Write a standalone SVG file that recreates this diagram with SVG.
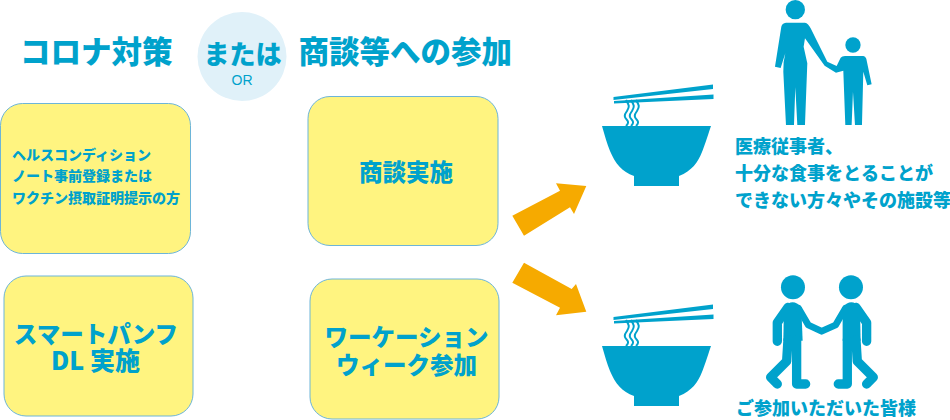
<svg xmlns="http://www.w3.org/2000/svg" xmlns:xlink="http://www.w3.org/1999/xlink" width="950" height="420" viewBox="0 0 950 420">
<style>
text{font-family:"Noto Sans CJK JP","Noto Sans",sans-serif;font-weight:900;fill:#00a2cc}
.box{fill:#fff480;stroke:#6db5d8;stroke-width:1}
.blue{fill:#00a2cc}
.arrow{fill:#f6aa00}
.limb{fill:none;stroke:#00a2cc;stroke-linecap:round;stroke-linejoin:round}
.noodle{fill:none;stroke:#00a2cc;stroke-width:2}
.title{font-size:30.500px}
.big{font-size:23.500px;text-anchor:middle}
.small{font-size:14px}
.right{font-size:18px}
</style>
<defs>
<g id="bowl">
<path class="blue" d="M602 126H711C707 138 704 147 702 152C698 162 692 171 679 176V186H634V176C622 172 615 163 610 151C607 144 605 136 602 126Z"/>
<path class="blue" d="M613.500 97L713 84.500V89L613.500 100ZM614 101L713.500 94.500V99L614 103.500Z"/>
<path class="noodle" d="M626 100C629 105 630 106 627 111C624 115 624 117 627 120C629 122 628 124 626 126"/>
<path class="noodle" d="M631 100C634 105 635 106 632 111C629 115 629 117 632 120C634 122 633 124 631 126"/>
<path class="noodle" d="M636 100C639 105 640 106 637 111C634 115 634 117 637 120C639 122 638 124 636 126"/>
</g>
</defs>
<g id="connectors">
<path class="arrow" d="M512.300 215.700L560 190.700L556 183.300L586.300 186L574 214L570 207.300L524 235.700Z"/>
<path class="arrow" d="M524 262.700L571.700 289L576 284L586.300 311.700L556 315.300L560 307.700L512.300 282.700Z"/>
</g>
<g id="title-left"><text class="title" x="20" y="63">コロナ対策</text></g>
<g id="or-circle">
<circle cx="242" cy="56.500" r="44.500" fill="#e0f1f9"/>
<text x="242.500" y="64" font-size="26px" text-anchor="middle">または</text>
<text x="242" y="85" style="font-family:'Liberation Sans',sans-serif;font-weight:400" font-size="14px" text-anchor="middle">OR</text>
</g>
<g id="title-right"><text class="title" x="298.500" y="63">商談等への参加</text></g>
<g id="node-health">
<rect class="box" x="0.500" y="103.500" width="190" height="150" rx="22"/>
<text class="small" x="12"><tspan x="12" y="159.500">ヘルスコンディション</tspan><tspan x="12" y="181">ノート事前登録または</tspan><tspan x="12" y="202.500">ワクチン摂取証明提示の方</tspan></text>
</g>
<g id="node-pamphlet">
<rect class="box" x="4" y="276" width="189" height="140" rx="22"/>
<text class="big"><tspan x="96" y="343">スマートパンフ</tspan><tspan x="95.500" y="370" style="font-size:25px">DL 実施</tspan></text>
</g>
<g id="node-meeting">
<rect class="box" x="308" y="96.500" width="190" height="149" rx="22"/>
<text class="big" x="406" y="181">商談実施</text>
</g>
<g id="node-workation">
<rect class="box" x="310" y="279" width="189" height="140" rx="22"/>
<text class="big"><tspan x="406.500" y="346">ワーケーション</tspan><tspan x="406.500" y="374">ウィーク参加</tspan></text>
</g>
<g id="bowl-top"><use href="#bowl" xlink:href="#bowl"/></g>
<g id="bowl-bottom"><use href="#bowl" xlink:href="#bowl" y="220"/></g>
<g id="people-family" transform="translate(590 0) scale(0.3333)">
<circle class="blue" cx="616" cy="29" r="29"/>
<path class="blue" d="M588 68H645Q655 70 662 85L712 185L740 198L752 173Q756 168 765 168H820Q826 168 829 176L845 253L832 256L820 215L816 375H795L789 275L785 375H766L760 212L738 218L704 197L645 115L641 140L652 190L645 375H622L616 262L612 375H588L580 215Q579 185 586 160L572 204L555 200L574 80Q576 70 588 68Z"/>
<circle class="blue" cx="789" cy="135" r="23"/>
</g>
<g id="people-handshake" transform="translate(500 170) scale(0.3333)">
<circle class="blue" cx="879" cy="352" r="36"/>
<circle class="blue" cx="1053" cy="352" r="36"/>
<path class="blue" d="M852 412Q878 382 904 412L908 512H850Z"/>
<path class="blue" d="M1080 412Q1054 382 1028 412L1028 512H1082Z"/>
<path class="limb" stroke-width="28" d="M864 412L832 458V514M864 510L860 574L812 622L832 642M890 510V642H917"/>
<path class="limb" stroke-width="28" d="M1068 412L1100 458V514M1068 510L1072 574L1120 622L1100 642M1042 510V642H1015"/>
<path class="limb" stroke-width="20" d="M896 415L925 465L965 484L1007 465L1036 415"/>
</g>
<g id="label-top">
<text class="right"><tspan x="735" y="153">医療従事者、</tspan><tspan x="735" y="180">十分な食事をとることが</tspan><tspan x="735" y="207">できない方々やその施設等</tspan></text>
</g>
<g id="label-bottom"><text class="right" x="736" y="415">ご参加いただいた皆様</text></g>
</svg>
